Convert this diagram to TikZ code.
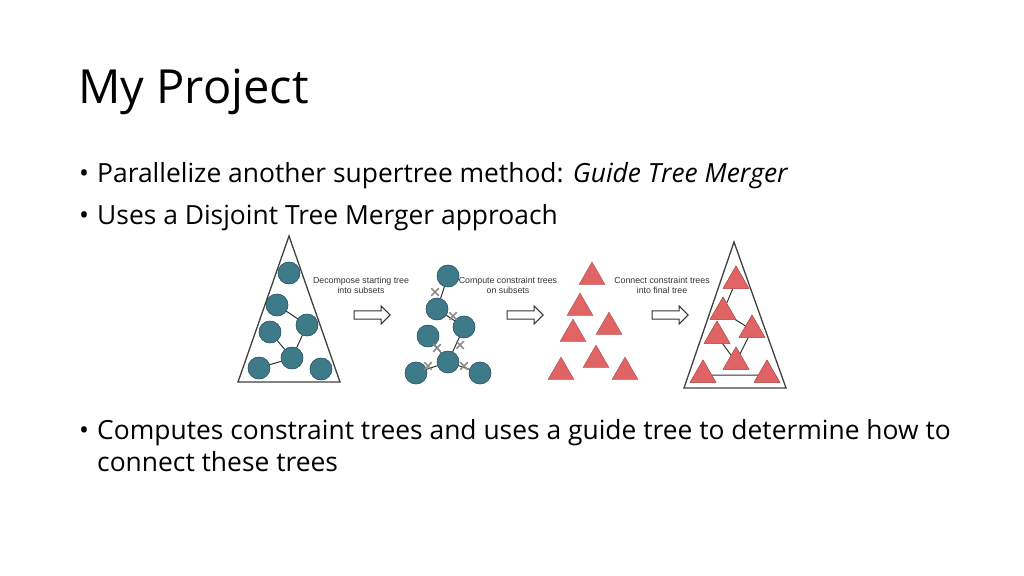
\documentclass[tikz,border=0pt]{standalone}
\usepackage{fontspec}
\setmainfont{Open Sans}
\newfontfamily\lab{Liberation Sans}
\usetikzlibrary{shapes.geometric,shapes.arrows,shapes.misc}
\definecolor{tealc}{HTML}{3E7A88}
\definecolor{redc}{HTML}{E06464}
\begin{document}
\begin{tikzpicture}[x=1pt,y=-1pt,
 circ/.style={circle,fill=tealc,draw=tealc!70!black,minimum size=22pt,inner sep=0},
 tri/.style={regular polygon,regular polygon sides=3,fill=redc,draw=redc!70!black,line width=0.3pt,minimum size=30pt,inner sep=0},
 big/.style={draw=black!75,line width=1.3pt},
 ed/.style={draw=black!80,line width=1pt},
 xm/.style={cross out,draw=black!45,line width=1.5pt,minimum size=6pt,inner sep=0},
 blk/.style={single arrow,draw=black!80,line width=1pt,minimum height=36pt,minimum width=18pt,single arrow head extend=3pt,inner sep=2pt},
 lbl/.style={font=\lab\fontsize{8.8}{10}\selectfont,align=center,text=black!80},
 bul/.style={anchor=base west,font=\fontsize{26.4}{32}\selectfont,inner sep=0}]
\useasboundingbox (0,0) rectangle (1024,575);
\node[anchor=base west,font=\fontsize{47}{47}\selectfont,inner sep=0] (title) at (78,103) {My Project};
\node[bul] (b1) at (79,182) {•}; \node[bul] (t1) at (97,182) {Parallelize another supertree method: \textit{Guide Tree Merger}};
\node[bul] (b2) at (79,224) {•}; \node[bul] (t2) at (97,224) {Uses a Disjoint Tree Merger approach};
\node[bul] (b3) at (79,439) {•}; \node[bul,align=left,anchor=north west] (t3) at (97,419) {Computes constraint trees and uses a guide tree to determine how to\\connect these trees};
% panel 1
\draw[big] (289,236) -- (238,382) -- (340,382) -- cycle;
\foreach \n/\x/\y in {a/289/273,b/277/305,c/307/325,d/270/332,e/292/358,f/259/368,g/321/369}
  \node[circ] (1\n) at (\x,\y) {};
\draw[ed] (1b)--(1c) (1d)--(1e) (1c)--(1e) (1e)--(1f);
\foreach \n/\x/\y in {a/289/273,b/277/305,c/307/325,d/270/332,e/292/358,f/259/368,g/321/369}
  \node[circ] at (\x,\y) {};
% panel 2
\foreach \n/\x/\y in {a/448/276,b/437/309,c/464/327,d/428/336,e/448/362,f/416/373,g/480/373}
  \node[circ] (2\n) at (\x,\y) {};
\draw[ed] (2a)--(2b) (2b)--(2c) (2c)--(2e) (2d)--(2e) (2f)--(2e) (2e)--(2g);
\foreach \n/\x/\y in {a/448/276,b/437/309,c/464/327,d/428/336,e/448/362,f/416/373,g/480/373}
  \node[circ] at (\x,\y) {};
\foreach \x/\y in {435/292,453/316,460/345,437/348,428/366,464/366}
  \node[xm] at (\x,\y) {};
% arrows and labels
\node[blk] (ar1) at (370,315) {}; \node[blk] (ar2) at (523,315) {}; \node[blk] (ar3) at (668,315) {};
\node[lbl] (l1) at (361,285) {Decompose starting tree\\into subsets};
\node[lbl] (l2) at (508,285) {Compute constraint trees\\on subsets};
\node[lbl] (l3) at (662,285) {Connect constraint trees\\into final tree};
% panel 3
\foreach \n/\x/\y in {a/592/277,b/580/308,c/609/327,d/573/334,e/596/360,f/561/372,g/625/372}
  \node[tri] (3\n) at (\x,\y) {};
% panel 4
\draw[big] (734,242) -- (684,388) -- (786,388) -- cycle;
\foreach \n/\x/\y in {a/736/281,b/723/312,c/752/330,d/717/336,e/736/362,f/703/375,g/767/375}
  \node[tri] (4\n) at (\x,\y) {};
\draw[ed] (4a)--(4b) (4b)--(4c) (4c)--(4e) (4d)--(4e) (4f)--(4g);
\foreach \n/\x/\y in {a/736/281,b/723/312,c/752/330,d/717/336,e/736/362,f/703/375,g/767/375}
  \node[tri] at (\x,\y) {};
\end{tikzpicture}
\end{document}
